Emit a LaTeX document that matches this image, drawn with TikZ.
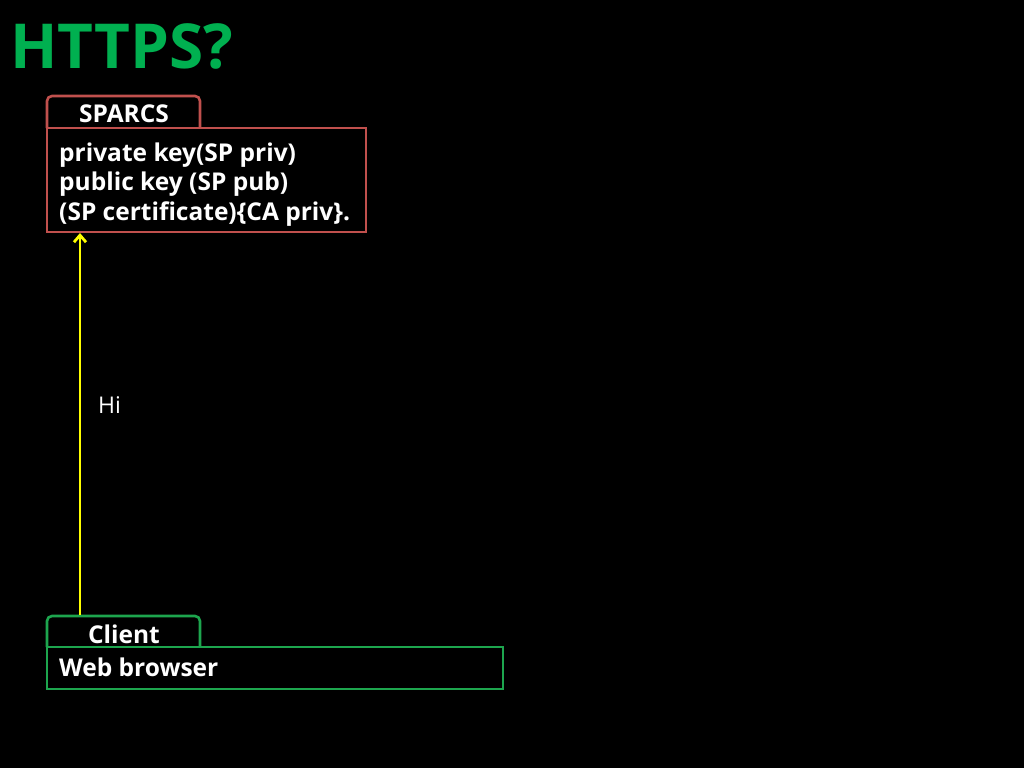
\documentclass[tikz,border=0pt]{standalone}
\usepackage{fontspec}
\setmainfont{Open Sans}
\usetikzlibrary{arrows.meta}
\definecolor{ttlgreen}{HTML}{00B050}
\definecolor{boxred}{HTML}{C0504D}
\definecolor{boxgreen}{HTML}{1DA54E}
\definecolor{arrowyellow}{HTML}{FFFF00}
\tikzset{
  lbl/.style={text=white,font=\bfseries\fontsize{24.5}{29.5}\selectfont,inner sep=0pt},
  body/.style={lbl,anchor=base west,align=left},
  frame/.style={line width=2.6pt},
}
\begin{document}
\begin{tikzpicture}[x=1pt,y=-1pt]
\fill[black] (0,0) rectangle (1024,768);
\useasboundingbox (0,0) rectangle (1024,768);
\node[anchor=base west,inner sep=0pt,text=ttlgreen,font=\bfseries\fontsize{62}{70}\selectfont] (title) at (10,68) {HTTPS?};
% SPARCS
\draw[frame,boxred,rounded corners=5pt] (47,128) -- (47,96) -- (200,96) -- (200,128);
\draw[frame,boxred] (47,128) rectangle (366,232);
\node[lbl] (sparcs) at (124,114) {SPARCS};
\node[body] (sptext) at (59,220) {private key(SP priv)\\public key (SP pub)\\(SP certificate)\{CA priv\}.};
\coordinate (sptop) at (80,233);
% Client
\draw[frame,boxgreen,rounded corners=5pt] (47,647) -- (47,616) -- (200,616) -- (200,647);
\draw[frame,boxgreen] (47,647) rectangle (503,689);
\node[lbl] (client) at (124,634) {Client};
\node[body] (web) at (59,676) {Web browser};
\coordinate (cltop) at (80,615);
% arrow
\draw[arrowyellow,line width=2.8pt,-{Straight Barb[length=7pt,width=12pt]}] (cltop) -- (sptop);
\node[text=white,inner sep=0pt,font=\fontsize{23}{26}\selectfont,anchor=base west] (hi) at (98,413) {Hi};
\end{tikzpicture}
\end{document}
